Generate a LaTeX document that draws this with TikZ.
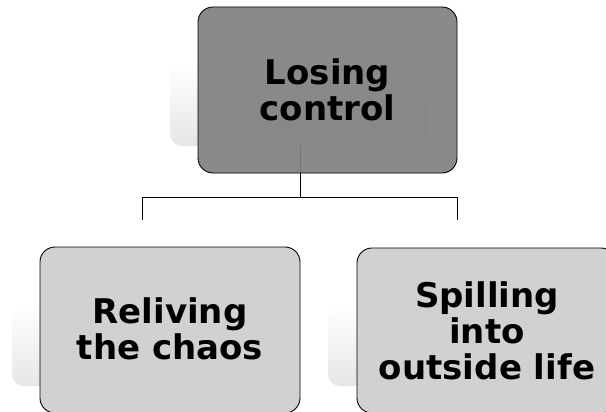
\documentclass[tikz,border=0pt]{standalone}
\usepackage{fontspec}
\setmainfont{DejaVu Sans}
\begin{document}
\begin{tikzpicture}[x=1pt,y=-1pt,
  boxdark/.style={draw=black,line width=0.9pt,rounded corners=15pt,fill=black!50},
  boxlight/.style={draw=black,line width=0.9pt,rounded corners=15pt,fill=black!18},
  shadebox/.style={rounded corners=12pt,top color=white,bottom color=black!10,draw=none},
  lbl/.style={font=\bfseries\fontsize{34}{36}\selectfont,align=center,text=black},
  conn/.style={draw=black,line width=0.8pt}]
\useasboundingbox (0,0) rectangle (606,412);
\clip (0,0) rectangle (606,412);
% shadows
\shade[shadebox] (170,64) rectangle (428,146);
\shade[shadebox] (12,307) rectangle (271,386);
\shade[shadebox] (328,307) rectangle (587,386);
% connector
\coordinate (hub) at (300,197);
\coordinate (lt) at (142,197);
\coordinate (rt) at (457,197);
\coordinate (c0) at (300,145);
\coordinate (lb) at (142,220);
\coordinate (rb) at (457,220);
\draw[conn] (c0) -- (hub);
\draw[conn] (lt) -- (rt);
\draw[conn] (lt) -- (lb);
\draw[conn] (rt) -- (rb);
% boxes
\path[boxdark,fill opacity=0.92] (198,7) rectangle (457,173);
\path[boxlight] (40,247) rectangle (300,413);
\path[boxlight] (357,248) rectangle (616,413);
\node[lbl] (top) at (327.5,90) {Losing\\control};
\node[lbl] (left) at (170,329) {Reliving\\the chaos};
\node[lbl] (right) at (487,331) {Spilling\\into\\outside life};
\end{tikzpicture}
\end{document}
